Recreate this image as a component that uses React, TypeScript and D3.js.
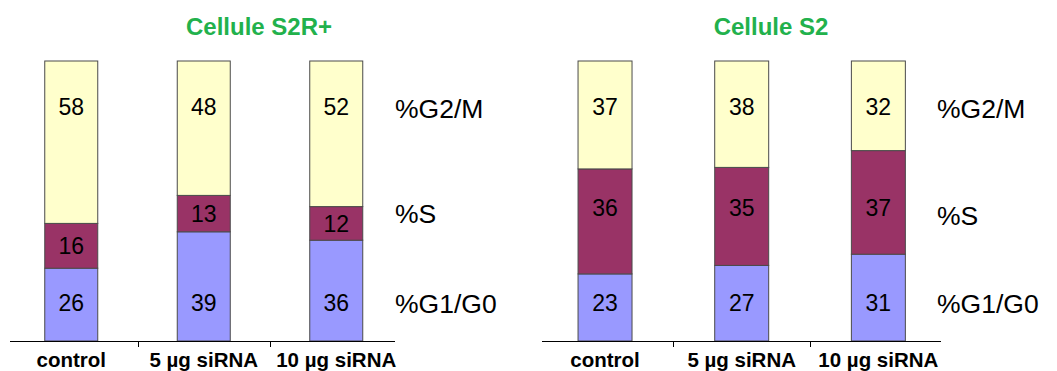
import React from "react";
import * as d3 from "d3";

// Treatment groups shared by both panels
const categories = ["control", "5 \u00b5g siRNA", "10 \u00b5g siRNA"];

// Cell-cycle phases, bottom to top of each stack
const phases = ["G1", "S", "G2M"];
const phaseNames = ["%G1/G0", "%S", "%G2/M"];
const phaseColors = ["#9999FF", "#993366", "#FFFFCC"];

// S2R+ cells (%)
const s2rG1 = [26, 39, 36];
const s2rS = [16, 13, 12];
const s2rG2M = [58, 48, 52];

// S2 cells (%)
const s2G1 = [23, 27, 31];
const s2S = [36, 35, 37];
const s2G2M = [37, 38, 32];

const W = 1057;
const H = 371;
const axisY = 341;
const topY = 61;

type Panel = {
  title: string;
  titleX: number;
  band: [number, number];
  axis: [number, number];
  barFrac: number;
  legendX: number;
  // fixed vertical anchors for value labels (null = centred in segment)
  valueY: (number | null)[];
  legendY: number[];
  g1: number[];
  s: number[];
  g2m: number[];
};

const panels: Panel[] = [
  {
    title: "Cellule S2R+",
    titleX: 259,
    band: [5, 402.5],
    axis: [10, 395],
    barFrac: 0.4,
    legendX: 395,
    valueY: [303, null, 107],
    legendY: [303, 213, 108],
    g1: s2rG1,
    s: s2rS,
    g2m: s2rG2M,
  },
  {
    title: "Cellule S2",
    titleX: 771,
    band: [536.7, 946.7],
    axis: [542, 941],
    barFrac: 0.395,
    legendX: 937,
    valueY: [303, 208, 107],
    legendY: [303, 215, 108],
    g1: s2G1,
    s: s2S,
    g2m: s2G2M,
  },
];

const y = d3.scaleLinear().domain([0, 1]).range([axisY, topY]);

function StackPanel({ p }: { p: Panel }) {
  const x = d3.scaleBand<string>().domain(categories).range(p.band).padding(0);
  const rows = categories.map((c, i) => ({ cat: c, G1: p.g1[i], S: p.s[i], G2M: p.g2m[i] }));
  const raw: Record<string, number[]> = { G1: p.g1, S: p.s, G2M: p.g2m };
  const series = d3.stack<any>().keys(phases).offset(d3.stackOffsetExpand)(rows);
  const bw = x.bandwidth() * p.barFrac;
  const font = "'Liberation Sans', Arial, sans-serif";

  return (
    <g>
      <text x={p.titleX} y={35} textAnchor="middle" fontFamily={font} fontWeight="bold" fontSize={24} fill="#22B14C">
        {p.title}
      </text>
      {series.map((s, si) => (
        <g key={s.key}>
          {s.map((d, ci) => {
            const cx = x(categories[ci])! + x.bandwidth() / 2;
            const y0 = y(d[0]);
            const y1 = y(d[1]);
            const ly = p.valueY[si] ?? (y0 + y1) / 2;
            return (
              <g key={ci}>
                <rect x={cx - bw / 2} y={y1} width={bw} height={y0 - y1} fill={phaseColors[si]} stroke="#4a4a4a" strokeWidth={1} />
                <text x={cx} y={ly} dy="0.36em" textAnchor="middle" fontFamily={font} fontSize={23} fill="#000">
                  {raw[s.key as string][ci]}
                </text>
              </g>
            );
          })}
        </g>
      ))}
      <line x1={p.axis[0]} x2={p.axis[1]} y1={axisY + 0.5} y2={axisY + 0.5} stroke="#000" strokeWidth={1} />
      {categories.slice(1).map((c) => (
        <line key={c} x1={Math.round(x(c)!) + 0.5} x2={Math.round(x(c)!) + 0.5} y1={axisY} y2={axisY + 6} stroke="#000" strokeWidth={1} />
      ))}
      {categories.map((c) => (
        <text key={c} x={x(c)! + x.bandwidth() / 2} y={367} textAnchor="middle" fontFamily={font} fontWeight="bold" fontSize={20.5} fill="#000">
          {c}
        </text>
      ))}
      {phaseNames.map((n, i) => (
        <text key={n} x={p.legendX} y={p.legendY[i]} dy="0.36em" fontFamily={font} fontSize={26.5} fill="#000">
          {n}
        </text>
      ))}
    </g>
  );
}

export default function App() {
  return (
    <svg width={W} height={H} style={{ position: "absolute", left: 0, top: 0, background: "#fff" }}>
      <rect width={W} height={H} fill="#fff" />
      {panels.map((p) => (
        <StackPanel key={p.title} p={p} />
      ))}
    </svg>
  );
}
